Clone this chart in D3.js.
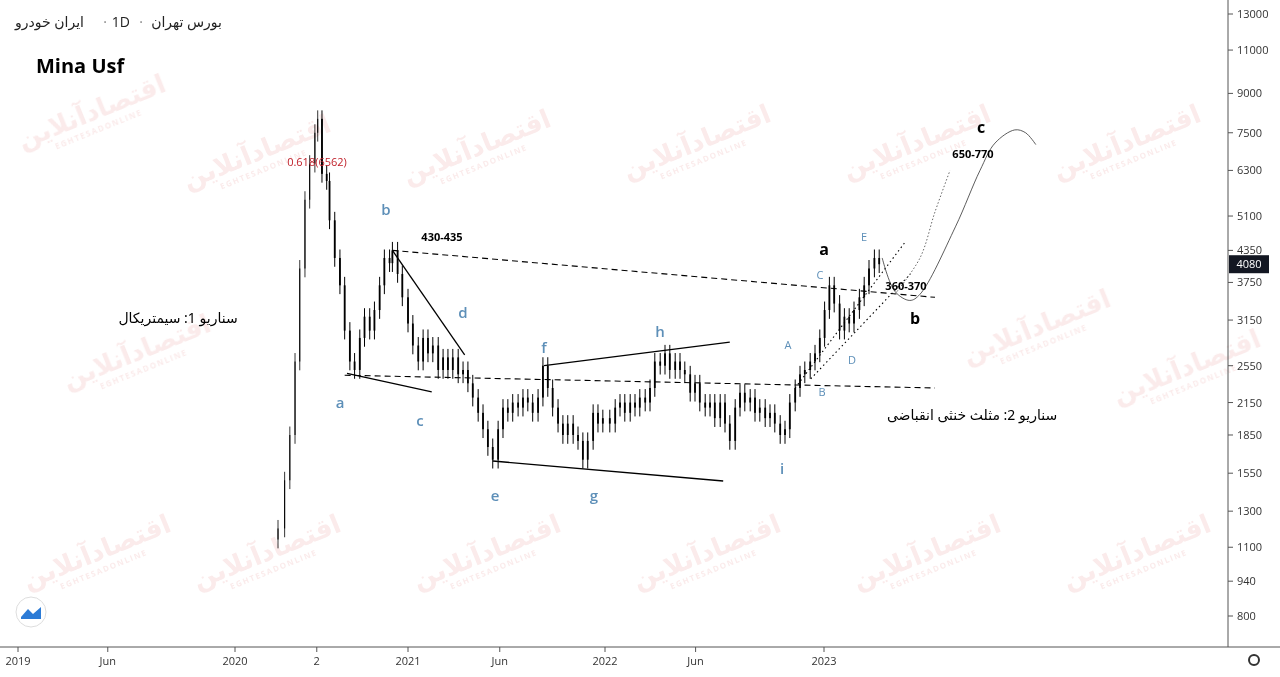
<!DOCTYPE html>
<html><head><meta charset="utf-8">
<script src="https://cdn.jsdelivr.net/npm/d3@7/dist/d3.min.js"></script>
<style>body{margin:0;background:#fff;font-family:"Open Sans","Noto Sans",sans-serif}</style>
</head><body><svg id="c" width="1280" height="677"></svg>
<script>
const dates=["2020-04-01","2020-04-15","2020-04-26","2020-05-07","2020-05-17","2020-05-28","2020-06-07","2020-06-18","2020-06-24","2020-07-03","2020-07-13","2020-07-19","2020-07-30","2020-08-10","2020-08-20","2020-08-31","2020-09-10","2020-09-21","2020-10-01","2020-10-12","2020-10-22","2020-11-02","2020-11-12","2020-11-23","2020-11-29","2020-12-10","2020-12-20","2021-01-01","2021-01-10","2021-01-20","2021-01-29","2021-02-07","2021-02-16","2021-02-26","2021-03-07","2021-03-16","2021-03-25","2021-04-04","2021-04-13","2021-04-22","2021-05-01","2021-05-11","2021-05-20","2021-05-29","2021-06-07","2021-06-17","2021-06-26","2021-07-05","2021-07-14","2021-07-24","2021-08-02","2021-08-11","2021-08-20","2021-08-30","2021-09-08","2021-09-17","2021-09-26","2021-10-06","2021-10-15","2021-10-24","2021-11-03","2021-11-12","2021-11-21","2021-11-30","2021-12-10","2021-12-19","2021-12-28","2022-01-09","2022-01-18","2022-01-26","2022-02-03","2022-02-12","2022-02-20","2022-02-28","2022-03-09","2022-03-17","2022-03-25","2022-04-03","2022-04-11","2022-04-19","2022-04-28","2022-05-06","2022-05-14","2022-05-23","2022-05-31","2022-06-08","2022-06-17","2022-06-25","2022-07-03","2022-07-12","2022-07-20","2022-07-28","2022-08-06","2022-08-14","2022-08-22","2022-08-31","2022-09-08","2022-09-16","2022-09-25","2022-10-03","2022-10-11","2022-10-20","2022-10-28","2022-11-05","2022-11-14","2022-11-22","2022-11-30","2022-12-09","2022-12-17","2022-12-25","2023-01-02","2023-01-10","2023-01-18","2023-01-27","2023-02-04","2023-02-12","2023-02-20","2023-03-01","2023-03-09","2023-03-17","2023-03-26","2023-04-03"];
const closes=[1200,1500,1850,2600,4000,5500,6500,7500,8000,6200,6000,5000,4200,3700,3000,2600,2500,2900,3200,3000,3300,3700,4200,4100,4350,3900,3500,3100,2800,2600,2900,2700,2800,2500,2650,2500,2650,2450,2500,2350,2200,2050,1900,1750,1650,1900,2100,2050,2150,2100,2200,2150,2050,2200,2550,2300,2100,1950,1850,1950,1850,1800,1650,1800,2050,1950,2000,1950,2100,2150,2050,2150,2100,2200,2150,2300,2600,2550,2700,2500,2600,2500,2450,2250,2350,2150,2100,2150,2000,2150,1950,1800,2100,2250,2150,2200,2050,2100,2000,2050,1950,1850,1900,2150,2300,2450,2500,2600,2700,2900,3300,3700,3400,3000,3200,3100,3300,3500,3700,4000,4200,4080];
const yTicks=[13000,11000,9000,7500,6300,5100,4350,3750,3150,2550,2150,1850,1550,1300,1100,940,800];
const xTickDates=["2019-01-01","2019-06-01","2020-01-01","2020-06-22","2021-01-01","2021-06-20","2022-01-01","2022-06-01","2023-01-01"];
const xTickLabels=["2019","Jun","2020","2","2021","Jun","2022","Jun","2023"];
const lines=[
["2020-11-29",4350,"2023-07-05",3500,"dash"],
["2020-08-20",2440,"2023-07-05",2300,"dash"],
["2020-08-25",2460,"2021-02-14",2260,"solid"],
["2020-11-29",4350,"2021-04-16",2680,"solid"],
["2021-09-10",2550,"2022-07-28",2845,"solid"],
["2021-06-07",1640,"2022-07-17",1495,"solid"],
["2022-11-14",2300,"2023-05-15",4500,"dot"],
["2022-12-10",2400,"2023-05-25",3900,"dot"]];
const projSolidD=["2023-04-08","2023-04-29","2023-05-24","2023-06-10","2023-08-08","2023-09-18","2023-10-13","2023-11-15","2023-12-03","2023-12-20"];
const projSolidP=[4200,3600,3450,3550,4850,6300,7150,7600,7500,7100];
const projDotD=["2023-04-29","2023-06-10","2023-07-05","2023-07-30"];
const projDotP=[3550,4200,5200,6300];
const P=d3.timeParse("%Y-%m-%d");
const svg=d3.select("#c");
const x=d3.scaleTime().domain(["2019-01-01","2020-01-01","2021-01-01","2022-01-01","2023-01-01","2024-01-01"].map(P)).range([18,235,408,605,824,1043]);
const y=d3.scaleLog().domain([13000,800]).range([14,616]);
const wm=svg.append("g").attr("fill","#e89a9a").attr("opacity",0.2);
[[95,120],[260,160],[480,155],[700,150],[920,150],[1130,150],[140,360],[1040,335],[1190,375],[100,560],[270,560],[490,560],[710,560],[930,560],[1140,560]].forEach(([a,b])=>{
 const g=wm.append("g").attr("transform",`translate(${a},${b}) rotate(-22)`);
 g.append("text").attr("text-anchor","middle").attr("font-size",26).attr("font-weight","bold").attr("font-family","Noto Sans,DejaVu Sans").text("اقتصادآنلاین");
 g.append("text").attr("y",13).attr("text-anchor","middle").attr("font-size",8).attr("font-weight","bold").attr("letter-spacing",1.5).text("EGHTESADONLINE");
});
const data=dates.map((d,i)=>({d:P(d),c:closes[i],o:i?closes[i-1]:closes[0]*0.95}));
const cg=svg.append("g");
data.forEach((k,i)=>{
 const hi=Math.max(k.o,k.c)*1.04,lo=Math.min(k.o,k.c)*0.96;
 const xx=x(k.d), w=i<9?1:1.8;
 cg.append("line").attr("x1",xx).attr("x2",xx).attr("y1",y(hi)).attr("y2",y(lo)).attr("stroke","#000").attr("stroke-width",i<9?0.8:1);
 cg.append("rect").attr("x",xx-w/2).attr("width",w).attr("y",y(Math.max(k.o,k.c))).attr("height",Math.max(1,Math.abs(y(k.o)-y(k.c)))).attr("fill","#000");
});
lines.forEach(l=>{
 svg.append("line").attr("x1",x(P(l[0]))).attr("y1",y(l[1])).attr("x2",x(P(l[2]))).attr("y2",y(l[3]))
 .attr("stroke","#000").attr("stroke-width",l[4]=="solid"?1.3:1.1).attr("stroke-dasharray",l[4]=="dash"?"6,4":l[4]=="dot"?"1.5,3":null);
});
const lg=d3.line().x(d=>x(d[0])).y(d=>y(d[1])).curve(d3.curveCatmullRom);
svg.append("path").attr("d",lg(projSolidD.map((d,i)=>[P(d),projSolidP[i]]))).attr("fill","none").attr("stroke","#333").attr("stroke-width",0.8);
svg.append("path").attr("d",lg(projDotD.map((d,i)=>[P(d),projDotP[i]]))).attr("fill","none").attr("stroke","#555").attr("stroke-width",0.9).attr("stroke-dasharray","1.5,2");
const T=(t,a,b,o={})=>svg.append("text").attr("x",a).attr("y",b).text(t).attr("font-size",o.s||14).attr("fill",o.c||"#000").attr("font-weight",o.w||"normal").attr("text-anchor",o.a||"start").attr("font-family",o.f||"Open Sans,Noto Sans");
const blue="#5d8fb8";
[["b",386,215],["a",340,408],["c",420,426],["d",463,318],["f",544,353],["h",660,337],["e",495,501],["g",594,501],["i",782,474]].forEach(l=>T(l[0],l[1],l[2],{c:blue,s:15,w:600,a:"middle"}));
[["A",788,349],["B",822,396],["C",820,279],["D",852,364],["E",864,241]].forEach(l=>T(l[0],l[1],l[2],{c:blue,s:11,a:"middle"}));
T("a",824,255,{s:16,w:"bold",a:"middle"});T("b",915,324,{s:16,w:"bold",a:"middle"});T("c",981,133,{s:16,w:"bold",a:"middle"});
T("430-435",442,241,{s:11,w:"bold",a:"middle"});T("360-370",906,290,{s:11,w:"bold",a:"middle"});T("650-770",973,158,{s:11,w:"bold",a:"middle"});
T("0.618(6562)",317,166,{s:11,c:"#c0202a",a:"middle"});
T("سناریو 1: سیمتریکال",178,323,{s:14,a:"middle",f:"Noto Sans,DejaVu Sans"});
T("سناریو 2: مثلث خنثی انقباضی",972,420,{s:14,a:"middle",f:"Noto Sans,DejaVu Sans"});
T("Mina Usf",36,73,{s:20,w:"bold"});
T("بورس تهران",222,27,{s:14,c:"#222",a:"end",f:"Noto Sans,DejaVu Sans"});
T("·",141,27,{s:14,c:"#888",a:"middle"});
T("1D",130,27,{s:14,c:"#222",a:"end"});
T("·",105,27,{s:14,c:"#888",a:"middle"});
T("ایران خودرو",15,27,{s:14,c:"#222",f:"Noto Sans,DejaVu Sans"});
svg.append("line").attr("x1",1228).attr("x2",1228).attr("y1",0).attr("y2",647).attr("stroke","#555");
svg.append("line").attr("x1",0).attr("x2",1280).attr("y1",647).attr("y2",647).attr("stroke","#555");
yTicks.forEach(v=>{svg.append("line").attr("x1",1228).attr("x2",1233).attr("y1",y(v)).attr("y2",y(v)).attr("stroke","#555");
 T(v,1237,y(v)+4,{s:11,c:"#333"});});
xTickDates.forEach((d,i)=>{svg.append("line").attr("x1",x(P(d))).attr("x2",x(P(d))).attr("y1",647).attr("y2",652).attr("stroke","#555");
 T(xTickLabels[i],x(P(d)),665,{s:11,c:"#333",a:"middle"});});
svg.append("rect").attr("x",1229).attr("y",y(4080)-9).attr("width",40).attr("height",18).attr("fill","#131722");
T("4080",1249,y(4080)+4,{s:11,c:"#fff",a:"middle"});
svg.append("circle").attr("cx",31).attr("cy",612).attr("r",15).attr("fill","#fff").attr("stroke","#ddd");
svg.append("path").attr("d","M21,617 L28,609 L33,614 L41,607 L41,619 L21,619Z").attr("fill","#2c7bd6");
svg.append("circle").attr("cx",1254).attr("cy",660).attr("r",5).attr("fill","none").attr("stroke","#333").attr("stroke-width",2);
</script></body></html>
